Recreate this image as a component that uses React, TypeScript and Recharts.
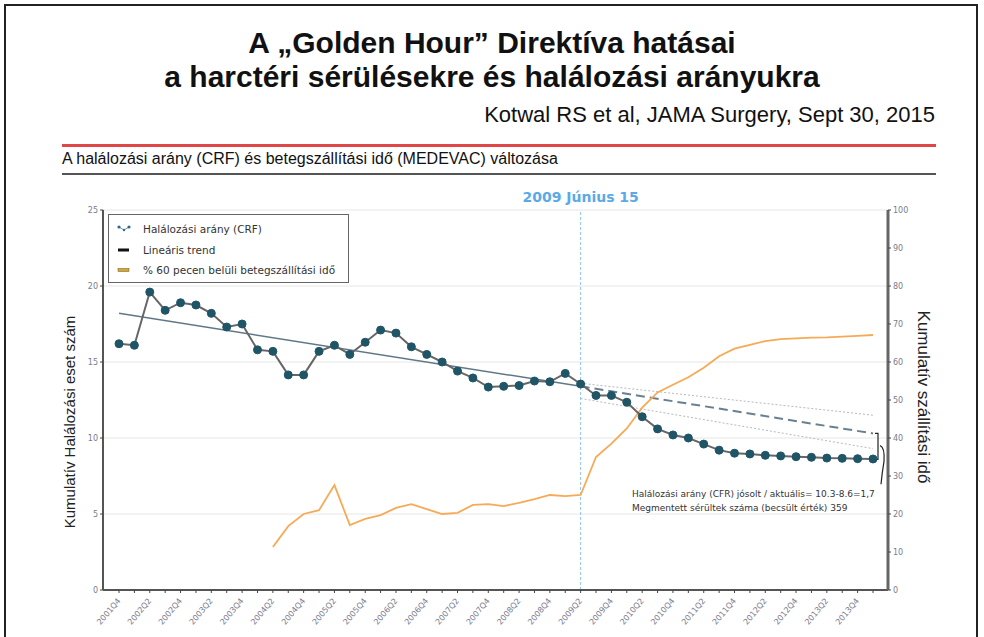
import React from "react";
import { LineChart, Line, XAxis, YAxis, CartesianGrid, ReferenceLine } from "recharts";

const quarters = [
  "2001Q4", "2002Q1", "2002Q2", "2002Q3", "2002Q4", "2003Q1", "2003Q2", "2003Q3", "2003Q4",
  "2004Q1", "2004Q2", "2004Q3", "2004Q4", "2005Q1", "2005Q2", "2005Q3", "2005Q4",
  "2006Q1", "2006Q2", "2006Q3", "2006Q4", "2007Q1", "2007Q2", "2007Q3", "2007Q4",
  "2008Q1", "2008Q2", "2008Q3", "2008Q4", "2009Q1", "2009Q2", "2009Q3", "2009Q4",
  "2010Q1", "2010Q2", "2010Q3", "2010Q4", "2011Q1", "2011Q2", "2011Q3", "2011Q4",
  "2012Q1", "2012Q2", "2012Q3", "2012Q4", "2013Q1", "2013Q2", "2013Q3", "2013Q4", "2014Q1",
];

// halálozási arány (bal tengely)
const crf = [
  16.2, 16.1, 19.6, 18.4, 18.9, 18.75, 18.2, 17.3, 17.5, 15.8,
  15.7, 14.15, 14.15, 15.7, 16.1, 15.5, 16.3, 17.1, 16.9, 16.0,
  15.5, 15.0, 14.4, 13.95, 13.35, 13.4, 13.45, 13.75, 13.7, 14.25,
  13.55, 12.8, 12.8, 12.35, 11.4, 10.6, 10.2, 10.0, 9.6, 9.2,
  9.0, 8.95, 8.86, 8.82, 8.77, 8.73, 8.68, 8.66, 8.64, 8.62,
];

// % 60 percen belüli szállítás (jobb tengely)
const medevac = [
  null, null, null, null, null, null, null, null, null, null,
  11.3, 16.8, 20.0, 21.0, 27.6, 17.1, 18.7, 19.7, 21.6, 22.6,
  21.3, 20.0, 20.3, 22.4, 22.6, 22.1, 22.9, 23.9, 25.0, 24.7,
  25.0, 35.0, 38.5, 42.5, 48.0, 52.0, 54.0, 56.0, 58.5, 61.5,
  63.5, 64.5, 65.5, 66.0, 66.2, 66.4, 66.5, 66.7, 66.9, 67.1,
];

const trendQuarters = ["2001Q4", "2009Q2"];
const trendValues = [18.2, 13.4];
const projQuarters = ["2009Q2", "2014Q1"];
const projValues = [13.4, 10.3];
const upperValues = [13.6, 11.5];
const lowerValues = [12.6, 9.3];

const bracketTop = 10.3;
const bracketBottom = 8.6;

const leftTicks = [0, 5, 10, 15, 20, 25];
const rightTicks = [0, 10, 20, 30, 40, 50, 60, 70, 80, 90, 100];

const pick = (qs: string[], vs: number[], q: string) => {
  const i = qs.indexOf(q);
  return i >= 0 ? vs[i] : null;
};

const chartData = quarters.map((q, i) => ({
  q,
  crf: crf[i],
  medevac: medevac[i],
  trend: pick(trendQuarters, trendValues, q),
  proj: pick(projQuarters, projValues, q),
  upper: pick(projQuarters, upperValues, q),
  lower: pick(projQuarters, lowerValues, q),
}));

const XTick = (props: any) => {
  const { x, y, payload, index } = props;
  if (index % 2 === 1) return <g />;
  return (
    <text
      transform={`translate(${x + 2},${y + 6}) rotate(-50)`}
      textAnchor="end"
      fontSize={8}
      fill="#7a7a8e"
      fontFamily="DejaVu Sans"
    >
      {payload.value}
    </text>
  );
};

const Bracket = (props: any) => {
  const { x1, y1, y2 } = props;
  const x = x1 + 5;
  return (
    <g fill="none" stroke="#222" strokeWidth={1.2}>
      <path d={`M${x - 3},${y1} L${x},${y1} L${x},${y2} L${x - 3},${y2}`} />
      <path d={`M${x + 2},${y1 + 12} Q${x + 7},${y1 + 14} ${x + 6},${y2 + 2} Q${x + 4},${y2 + 14} ${x + 3},${y2 + 25}`} />
    </g>
  );
};

const LegendIcon = ({ kind }: { kind: string }) => {
  if (kind === "crf") {
    return (
      <svg width={14} height={8}>
        <path d="M2,2 L7,5 L12,2" stroke="#7a9aa8" strokeWidth={1} fill="none" />
        <circle cx={2} cy={2} r={1.6} fill="#2f6b80" />
        <circle cx={12} cy={2} r={1.6} fill="#2f6b80" />
        <circle cx={7} cy={5} r={1.2} fill="#2f6b80" />
      </svg>
    );
  }
  const color = kind === "trend" ? "#111" : "#d8a630";
  return (
    <svg width={14} height={8}>
      <rect x={1} y={2.5} width={11} height={3} fill={color} stroke={kind === "trend" ? "none" : "#6a5a30"} strokeWidth={0.5} />
    </svg>
  );
};

const legendItems = [
  { kind: "crf", label: "Halálozási arány (CRF)" },
  { kind: "trend", label: "Lineáris trend" },
  { kind: "medevac", label: "% 60 pecen belüli betegszállítási idő" },
];

export default function App() {
  return (
    <div
      style={{
        position: "absolute",
        left: 0,
        top: 0,
        width: 984,
        height: 637,
        background: "#fff",
        overflow: "hidden",
        fontFamily: "'Liberation Sans', Arial, sans-serif",
      }}
    >
      <div
        style={{
          position: "absolute",
          left: 4,
          top: 4,
          width: 970,
          height: 700,
          border: "2px solid #222",
        }}
      />
      <div
        style={{
          position: "absolute",
          left: 0,
          width: 984,
          top: 26,
          textAlign: "center",
          fontWeight: "bold",
          fontSize: 30,
          lineHeight: "34px",
          color: "#111",
        }}
      >
        <div>A „Golden Hour” Direktíva hatásai</div>
        <div>a harctéri sérülésekre és halálozási arányukra</div>
      </div>
      <div
        style={{
          position: "absolute",
          right: 49,
          top: 102,
          fontSize: 22,
          color: "#111",
          whiteSpace: "nowrap",
        }}
      >
        Kotwal RS et al, JAMA Surgery, Sept 30, 2015
      </div>
      <div style={{ position: "absolute", left: 62, top: 144, width: 874, height: 3, background: "#e04646" }} />
      <div
        style={{
          position: "absolute",
          left: 62,
          top: 150,
          fontSize: 16,
          color: "#111",
          whiteSpace: "nowrap",
        }}
      >
        A halálozási arány (CRF) és betegszállítási idő (MEDEVAC) változása
      </div>
      <div style={{ position: "absolute", left: 62, top: 173, width: 874, height: 2, background: "#555" }} />

      <div style={{ position: "absolute", left: 0, top: 0 }}>
        <LineChart
          width={984}
          height={637}
          data={chartData}
          margin={{ top: 210, right: 66, left: 73, bottom: 2 }}
        >
          <CartesianGrid yAxisId="left" horizontal vertical={false} stroke="#e6e6e6" ticks={leftTicks} />
          <XAxis
            dataKey="q"
            interval={0}
            tick={<XTick />}
            tickSize={3}
            tickLine={{ stroke: "#444" }}
            axisLine={{ stroke: "#555", strokeWidth: 2 }}
            padding={{ left: 16, right: 15 }}
            height={45}
          />
          <YAxis
            yAxisId="left"
            domain={[0, 25]}
            ticks={leftTicks}
            width={30}
            tickSize={3}
            tick={{ fontSize: 8, fill: "#7a7a8e", fontFamily: "DejaVu Sans" }}
            tickLine={{ stroke: "#444" }}
            axisLine={{ stroke: "#555", strokeWidth: 2 }}
          />
          <YAxis
            yAxisId="right"
            orientation="right"
            domain={[0, 100]}
            ticks={rightTicks}
            width={30}
            tickSize={3}
            tick={{ fontSize: 8, fill: "#7a7a8e", fontFamily: "DejaVu Sans" }}
            tickLine={{ stroke: "#444" }}
            axisLine={{ stroke: "#666", strokeWidth: 3 }}
          />
          <ReferenceLine
            yAxisId="left"
            x="2009Q2"
            stroke="#8cc4ec"
            strokeDasharray="3 2"
            label={{
              value: "2009 Június 15",
              position: "top",
              offset: 8,
              fill: "#5aaae6",
              fontSize: 14,
              fontWeight: "bold",
              fontFamily: "DejaVu Sans",
            }}
          />
          <Line yAxisId="left" dataKey="upper" connectNulls stroke="#b4bac0" strokeWidth={1} strokeDasharray="2 2" dot={false} isAnimationActive={false} />
          <Line yAxisId="left" dataKey="lower" connectNulls stroke="#b4bac0" strokeWidth={1} strokeDasharray="2 2" dot={false} isAnimationActive={false} />
          <Line yAxisId="left" dataKey="proj" connectNulls stroke="#6a8090" strokeWidth={2} strokeDasharray="9 5" dot={false} isAnimationActive={false} />
          <Line yAxisId="left" dataKey="trend" connectNulls stroke="#5f7888" strokeWidth={1.5} dot={false} isAnimationActive={false} />
          <Line yAxisId="right" dataKey="medevac" stroke="#f7aa55" strokeWidth={1.8} dot={false} isAnimationActive={false} />
          <Line
            yAxisId="left"
            dataKey="crf"
            stroke="#666"
            strokeWidth={2}
            dot={{ r: 4, fill: "#1f5566", stroke: "#1f5566", strokeWidth: 1 }}
            isAnimationActive={false}
          />
          <ReferenceLine
            yAxisId="left"
            segment={[
              { x: "2014Q1", y: bracketTop },
              { x: "2014Q1", y: bracketBottom },
            ]}
            shape={<Bracket />}
          />
        </LineChart>
      </div>

      <div
        style={{
          position: "absolute",
          left: 108,
          top: 214,
          width: 241,
          height: 69,
          border: "1px solid #666",
          background: "#fff",
          boxSizing: "border-box",
          padding: "4px 0 0 8px",
          fontFamily: "'DejaVu Sans', sans-serif",
          fontSize: 10.5,
          color: "#333",
        }}
      >
        {legendItems.map((it) => (
          <div key={it.kind} style={{ display: "flex", alignItems: "center", height: 20.5 }}>
            <LegendIcon kind={it.kind} />
            <span style={{ marginLeft: 12, whiteSpace: "nowrap" }}>{it.label}</span>
          </div>
        ))}
      </div>

      <div
        style={{
          position: "absolute",
          left: 632,
          top: 487,
          fontFamily: "'DejaVu Sans', sans-serif",
          fontSize: 9,
          lineHeight: "14px",
          color: "#333",
          whiteSpace: "nowrap",
        }}
      >
        <div>Halálozási arány (CFR) jósolt / aktuális= 10.3-8.6=1,7</div>
        <div>Megmentett sérültek száma (becsült érték) 359</div>
      </div>

      <div
        style={{
          position: "absolute",
          left: 69,
          top: 422,
          transform: "translate(-50%, -50%) rotate(-90deg)",
          fontSize: 15,
          color: "#222",
          whiteSpace: "nowrap",
        }}
      >
        Kumulatív Halálozási eset szám
      </div>
      <div
        style={{
          position: "absolute",
          left: 923,
          top: 397,
          transform: "translate(-50%, -50%) rotate(90deg)",
          fontSize: 17,
          color: "#222",
          whiteSpace: "nowrap",
        }}
      >
        Kumulatív szállítási idő
      </div>
    </div>
  );
}
